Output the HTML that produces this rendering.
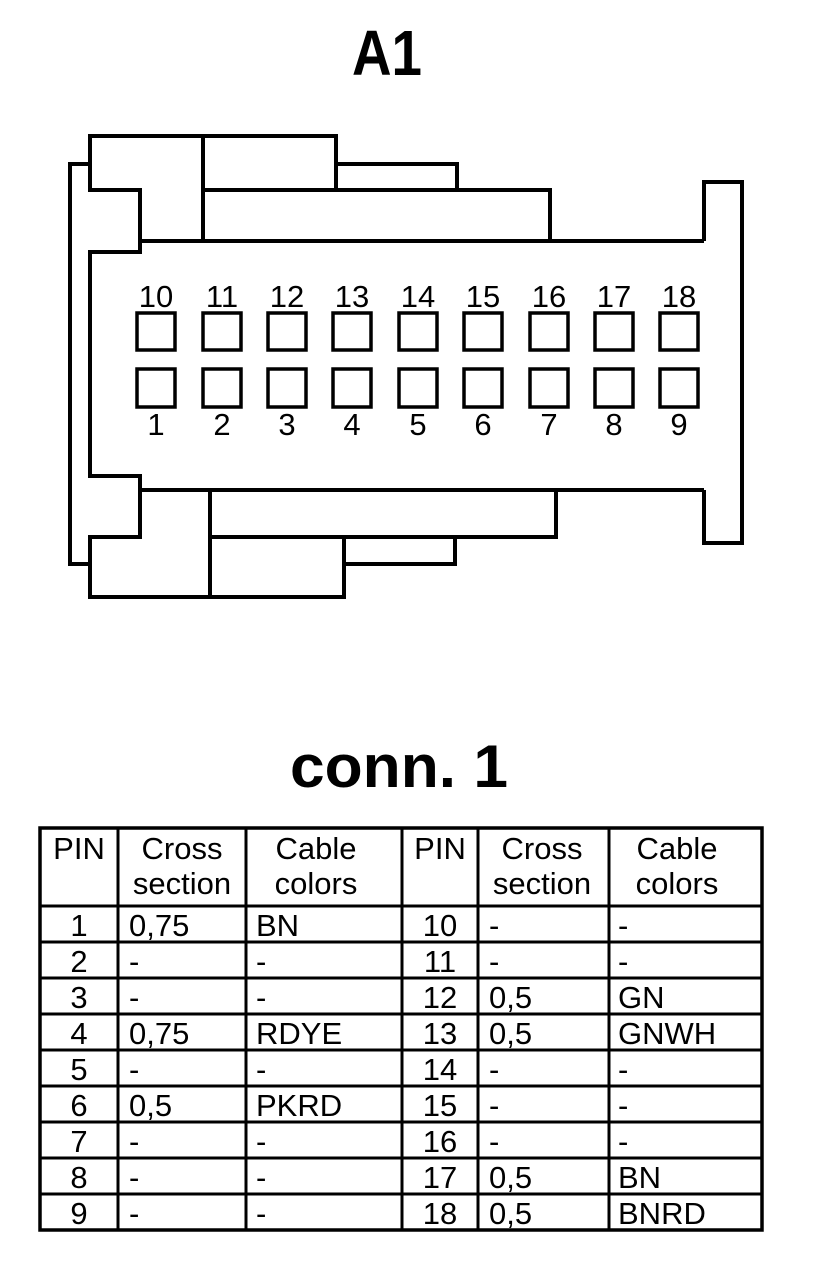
<!DOCTYPE html>
<html><head><meta charset="utf-8"><style>
html,body{margin:0;padding:0;background:#fff;}
svg{display:block;}
text{font-family:"Liberation Sans",Arial,sans-serif;fill:#000;}
</style></head><body>
<svg width="816" height="1266" viewBox="0 0 816 1266" xmlns="http://www.w3.org/2000/svg">
<text x="387" y="75" font-size="64" font-weight="bold" text-anchor="middle" textLength="70" lengthAdjust="spacingAndGlyphs">A1</text>
<g fill="none" stroke="#000" stroke-width="4" stroke-linejoin="miter">
<polyline points="90,164 70,164 70,564 90,564"/>
<polyline points="90,164 90,136 336,136 336,164 457,164 457,190 550,190 550,241"/>
<polyline points="90,164 90,190 140,190 140,252 90,252 90,476 140,476 140,537 90,537 90,597 344,597 344,564 455,564 455,537 556,537 556,490"/>
<line x1="140" y1="241" x2="704" y2="241"/>
<line x1="140" y1="490" x2="704" y2="490"/>
<polyline points="704,241 704,182 742,182 742,543 704,543 704,490"/>
<line x1="203" y1="136" x2="203" y2="241"/>
<line x1="336" y1="164" x2="336" y2="190"/>
<line x1="203" y1="190" x2="457" y2="190"/>
<line x1="210" y1="490" x2="210" y2="597"/>
<line x1="210" y1="537" x2="455" y2="537"/>
<line x1="344" y1="537" x2="344" y2="564"/>
</g>
<g fill="none" stroke="#000" stroke-width="3.5">
<rect x="137" y="313" width="38" height="37"/><rect x="203" y="313" width="38" height="37"/><rect x="268" y="313" width="38" height="37"/><rect x="333" y="313" width="38" height="37"/><rect x="399" y="313" width="38" height="37"/><rect x="464" y="313" width="38" height="37"/><rect x="530" y="313" width="38" height="37"/><rect x="595" y="313" width="38" height="37"/><rect x="660" y="313" width="38" height="37"/>
<rect x="137" y="369" width="38" height="38"/><rect x="203" y="369" width="38" height="38"/><rect x="268" y="369" width="38" height="38"/><rect x="333" y="369" width="38" height="38"/><rect x="399" y="369" width="38" height="38"/><rect x="464" y="369" width="38" height="38"/><rect x="530" y="369" width="38" height="38"/><rect x="595" y="369" width="38" height="38"/><rect x="660" y="369" width="38" height="38"/>
</g>
<g font-size="31" text-anchor="middle">
<text x="156" y="307">10</text><text x="222" y="307">11</text><text x="287" y="307">12</text><text x="352" y="307">13</text><text x="418" y="307">14</text><text x="483" y="307">15</text><text x="549" y="307">16</text><text x="614" y="307">17</text><text x="679" y="307">18</text>
<text x="156" y="435">1</text><text x="222" y="435">2</text><text x="287" y="435">3</text><text x="352" y="435">4</text><text x="418" y="435">5</text><text x="483" y="435">6</text><text x="549" y="435">7</text><text x="614" y="435">8</text><text x="679" y="435">9</text>
</g>
<text x="399" y="787" font-size="60" font-weight="bold" text-anchor="middle" textLength="218" lengthAdjust="spacingAndGlyphs">conn. 1</text>
<g stroke="#000" fill="none">
<rect x="40" y="828" width="722" height="402" stroke-width="3.5"/>
<g stroke-width="3">
<line x1="118" y1="828" x2="118" y2="1230"/><line x1="246" y1="828" x2="246" y2="1230"/><line x1="402" y1="828" x2="402" y2="1230"/><line x1="478" y1="828" x2="478" y2="1230"/><line x1="609" y1="828" x2="609" y2="1230"/>
<line x1="40" y1="906" x2="762" y2="906"/>
<line x1="40" y1="942" x2="762" y2="942"/><line x1="40" y1="978" x2="762" y2="978"/><line x1="40" y1="1014" x2="762" y2="1014"/><line x1="40" y1="1050" x2="762" y2="1050"/><line x1="40" y1="1086" x2="762" y2="1086"/><line x1="40" y1="1122" x2="762" y2="1122"/><line x1="40" y1="1158" x2="762" y2="1158"/><line x1="40" y1="1194" x2="762" y2="1194"/>
</g>
</g>
<g font-size="31">
<g text-anchor="middle">
<text x="79" y="859">PIN</text><text x="182" y="859">Cross</text><text x="182" y="894">section</text><text x="316" y="859">Cable</text><text x="316" y="894">colors</text>
<text x="440" y="859">PIN</text><text x="542" y="859">Cross</text><text x="542" y="894">section</text><text x="677" y="859">Cable</text><text x="677" y="894">colors</text>
<text x="79" y="936">1</text><text x="79" y="972">2</text><text x="79" y="1008">3</text><text x="79" y="1044">4</text><text x="79" y="1080">5</text><text x="79" y="1116">6</text><text x="79" y="1152">7</text><text x="79" y="1188">8</text><text x="79" y="1224">9</text>
<text x="440" y="936">10</text><text x="440" y="972">11</text><text x="440" y="1008">12</text><text x="440" y="1044">13</text><text x="440" y="1080">14</text><text x="440" y="1116">15</text><text x="440" y="1152">16</text><text x="440" y="1188">17</text><text x="440" y="1224">18</text>
</g>
<text x="129" y="936">0,75</text><text x="129" y="972">-</text><text x="129" y="1008">-</text><text x="129" y="1044">0,75</text><text x="129" y="1080">-</text><text x="129" y="1116">0,5</text><text x="129" y="1152">-</text><text x="129" y="1188">-</text><text x="129" y="1224">-</text>
<text x="256" y="936">BN</text><text x="256" y="972">-</text><text x="256" y="1008">-</text><text x="256" y="1044">RDYE</text><text x="256" y="1080">-</text><text x="256" y="1116">PKRD</text><text x="256" y="1152">-</text><text x="256" y="1188">-</text><text x="256" y="1224">-</text>
<text x="489" y="936">-</text><text x="489" y="972">-</text><text x="489" y="1008">0,5</text><text x="489" y="1044">0,5</text><text x="489" y="1080">-</text><text x="489" y="1116">-</text><text x="489" y="1152">-</text><text x="489" y="1188">0,5</text><text x="489" y="1224">0,5</text>
<text x="618" y="936">-</text><text x="618" y="972">-</text><text x="618" y="1008">GN</text><text x="618" y="1044">GNWH</text><text x="618" y="1080">-</text><text x="618" y="1116">-</text><text x="618" y="1152">-</text><text x="618" y="1188">BN</text><text x="618" y="1224">BNRD</text>
</g>
</svg>
</body></html>
